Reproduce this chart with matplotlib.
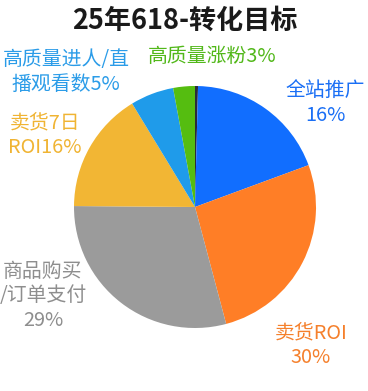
import matplotlib
matplotlib.use("Agg")
import matplotlib.pyplot as plt

plt.rcParams['font.family'] = ['Noto Sans CJK SC', 'DejaVu Sans']

title = "25年618-转化目标"
categories = ["其他", "全站推广", "卖货ROI", "商品购买/订单支付", "卖货7日ROI", "高质量进人/直播观看数", "高质量涨粉"]
values = [0.4, 19.0, 26.5, 29.3, 16.2, 5.8, 2.9]
colors = ["#2b2b3a", "#116eff", "#ff7e26", "#9b9b9b", "#f2b634", "#1f9bea", "#55bd10"]
label_texts = ["", "全站推广\n16%", "卖货ROI\n30%", "商品购买\n/订单支付\n29%", "卖货7日\nROI16%", "高质量进人/直\n播观看数5%", "高质量涨粉3%"]
label_colors = ["#2b2b3a", "#1a6ff5", "#f5802c", "#8e8e8e", "#f0b433", "#2b9ce8", "#52b81a"]
# label block centres in pixels (x from left, y from top)
label_pos = [None, (325, 103), (311, 345), (43, 296), (45, 135), (66, 72), (212, 56)]

W, H = 368, 391
fig = plt.figure(figsize=(W / 100, H / 100), dpi=100)
fig.patch.set_facecolor("white")

cx, cy, r = 195, 207, 121
ax = fig.add_axes([(cx - r) / W, (H - cy - r) / H, 2 * r / W, 2 * r / H])
ax.pie(values, colors=colors, startangle=90, counterclock=False, radius=1,
       wedgeprops=dict(linewidth=0))
ax.set_xlim(-1, 1)
ax.set_ylim(-1, 1)
ax.set_aspect("equal")
ax.axis("off")

fig.text(185 / W, 1 - 21 / H, title, ha="center", va="center", fontsize=19.5,
         fontweight="bold", color="#1a1a1a")

for txt, col, pos in zip(label_texts, label_colors, label_pos):
    if not txt or pos is None:
        continue
    fig.text(pos[0] / W, 1 - pos[1] / H, txt, ha="center", va="center",
             fontsize=14.3, color=col, linespacing=1.2, multialignment="center")

fig.savefig("out.png", dpi=100, facecolor="white")
